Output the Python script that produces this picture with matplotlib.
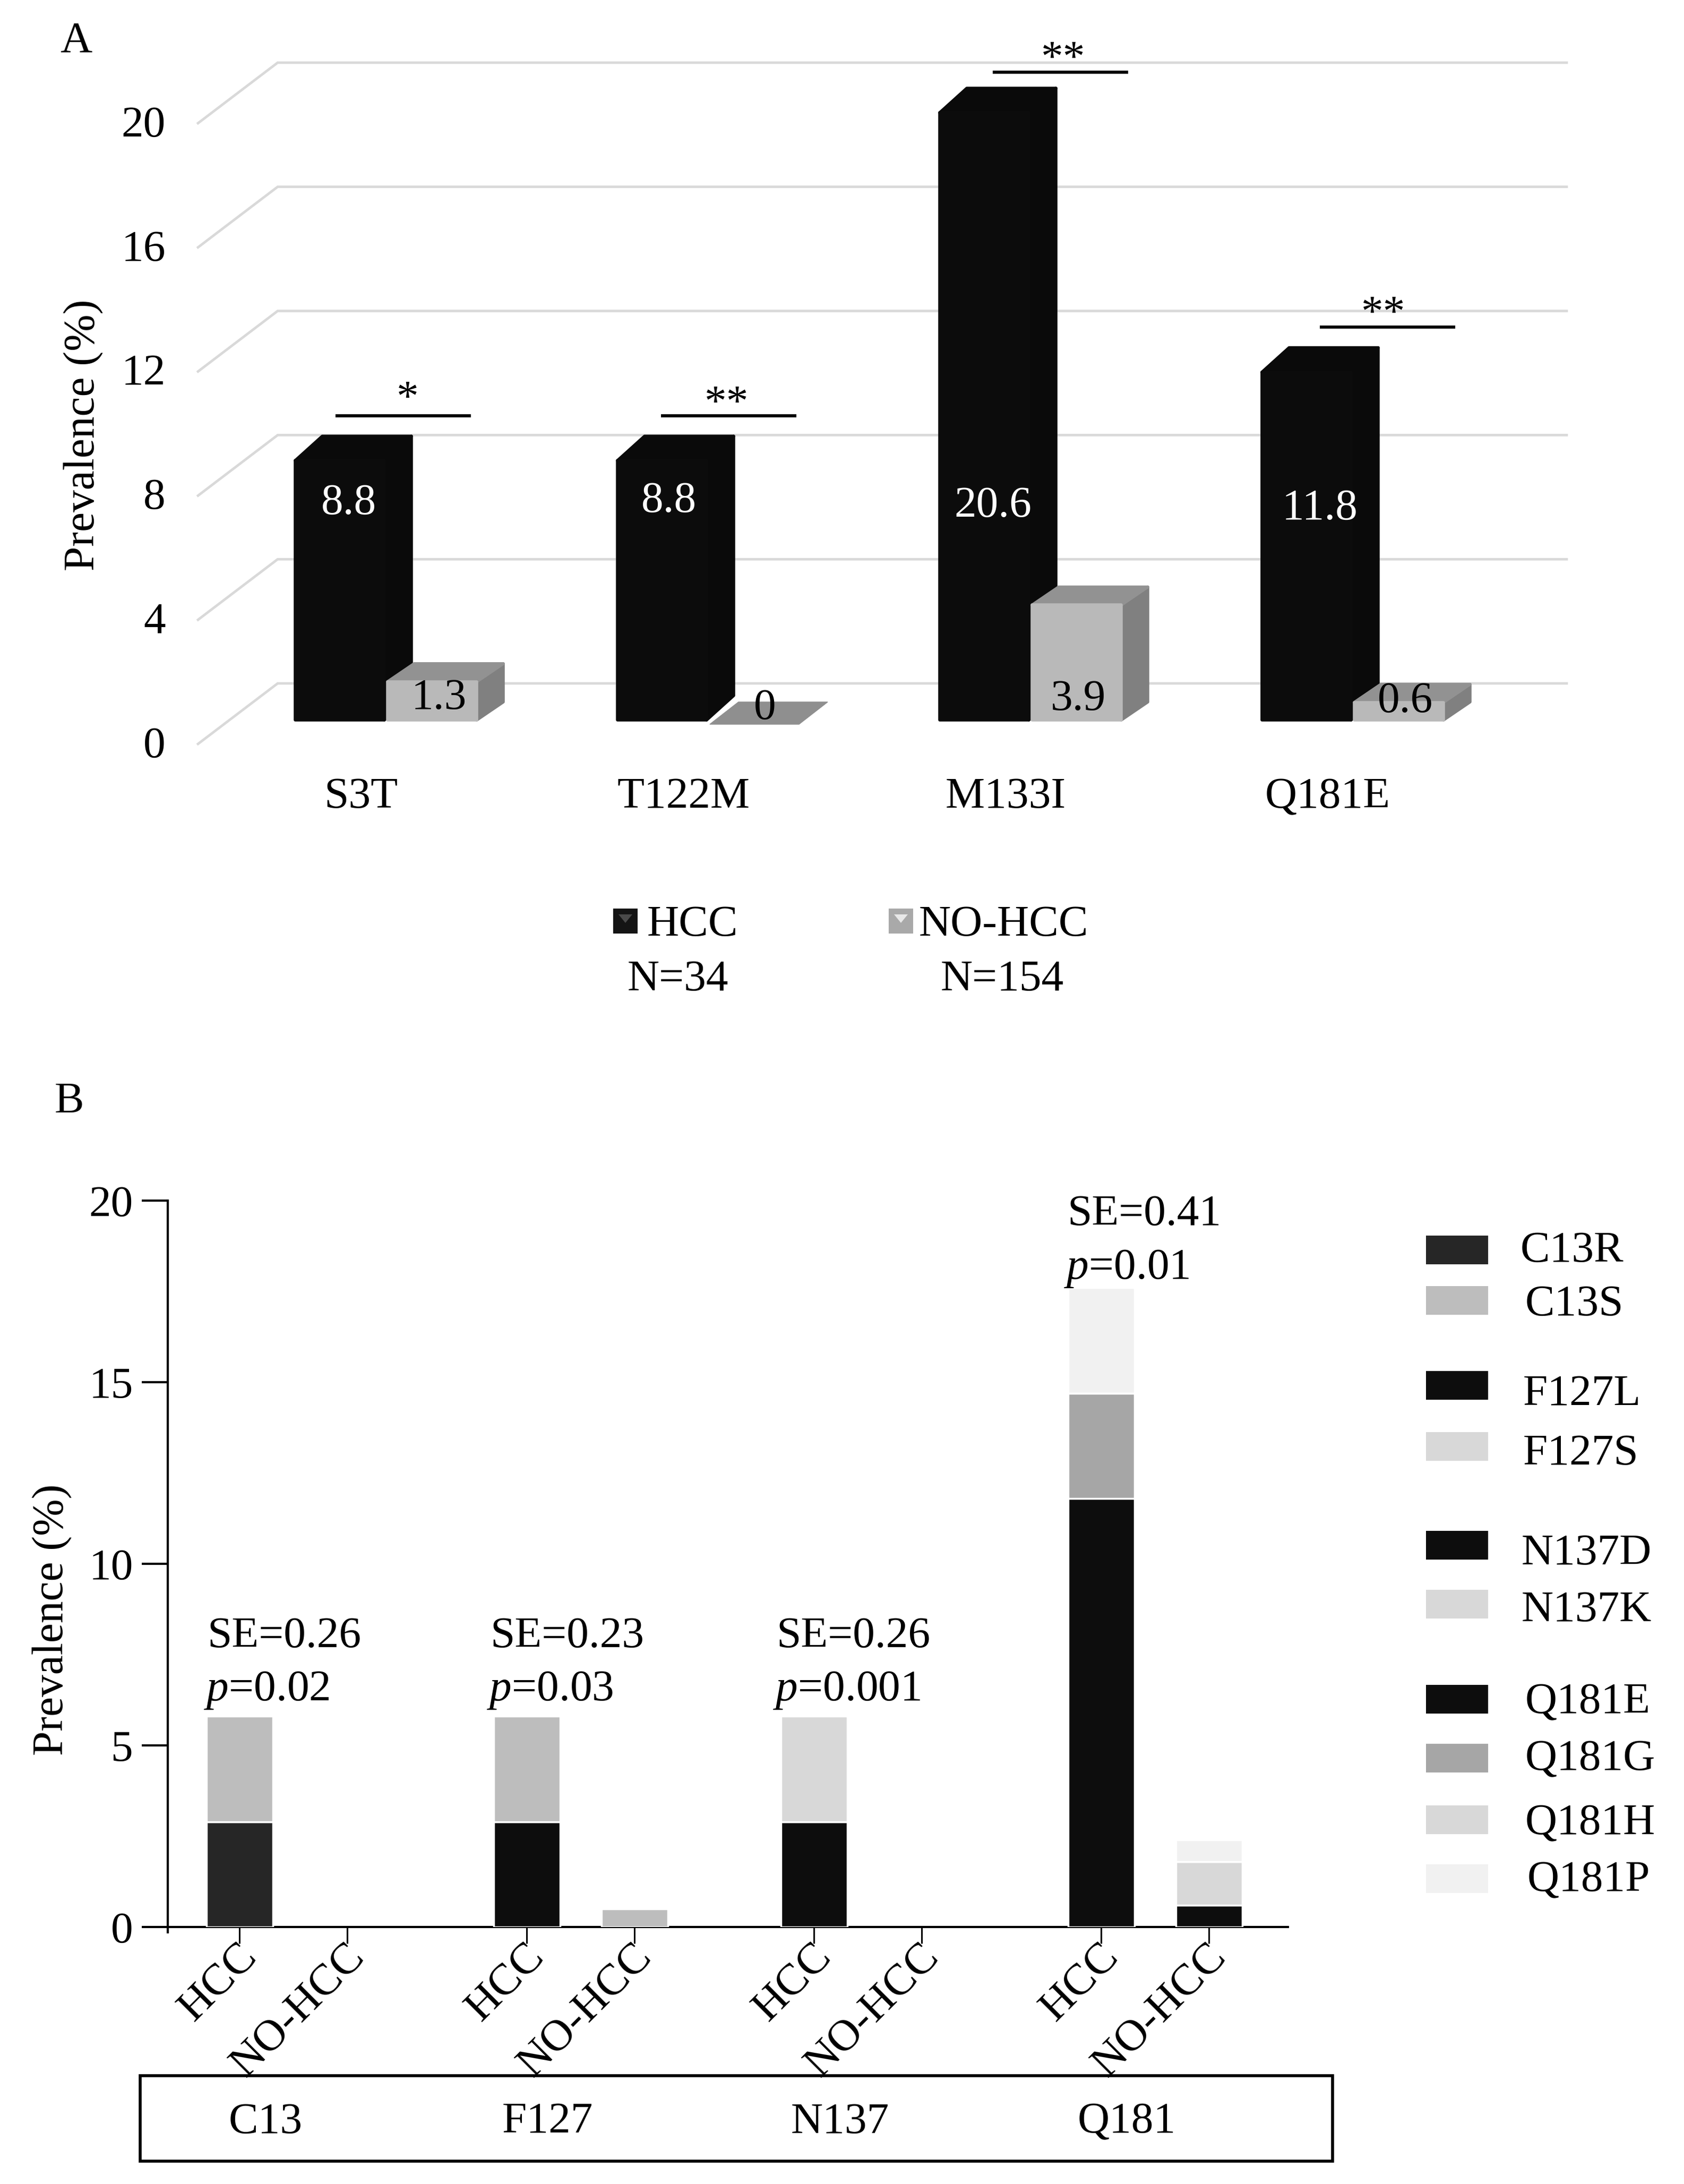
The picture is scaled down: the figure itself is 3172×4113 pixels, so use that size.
import numpy as np
import matplotlib
matplotlib.use("Agg")
import matplotlib.pyplot as plt
from matplotlib.patches import Polygon, Rectangle
from matplotlib.transforms import ScaledTranslation

W, H = 3172, 4113
plt.rcParams['font.family'] = ['Liberation Serif', 'DejaVu Serif']
plt.rcParams['mathtext.fontset'] = 'custom'
plt.rcParams['mathtext.rm'] = 'Liberation Serif'
plt.rcParams['mathtext.it'] = 'Liberation Serif:italic'
FS = 60

# ---------- data ----------
sites_a = ['S3T', 'T122M', 'M133I', 'Q181E']
hcc_a = [8.8, 8.8, 20.6, 11.8]
nohcc_a = [1.3, 0.0, 3.9, 0.6]
stars_a = ['*', '**', '**', '**']
yticks_a = [0, 4, 8, 12, 16, 20]

groups_b = ['C13', 'F127', 'N137', 'Q181']
bar_labels_b = ['HCC', 'NO-HCC']
yticks_b = [0, 5, 10, 15, 20]
se_b = ['SE=0.26', 'SE=0.23', 'SE=0.26', 'SE=0.41']
p_b = ['0.02', '0.03', '0.001', '0.01']
c13r = [2.9, 0.0]
c13s = [2.9, 0.0]
f127l = [2.9, 0.0]
f127s = [2.9, 0.5]
n137d = [2.9, 0.0]
n137k = [2.9, 0.0]
q181e = [11.8, 0.6]
q181g = [2.9, 0.0]
q181h = [0.0, 1.2]
q181p = [2.9, 0.6]
variants_b = ['C13R', 'C13S', 'F127L', 'F127S', 'N137D', 'N137K',
              'Q181E', 'Q181G', 'Q181H', 'Q181P']
colors_b = ['#262626', '#bdbdbd', '#0d0d0d', '#bdbdbd', '#0d0d0d', '#d8d8d8',
            '#0d0d0d', '#a6a6a6', '#d8d8d8', '#f1f1f1']
legend_colors_b = ['#262626', '#bdbdbd', '#0d0d0d', '#d8d8d8', '#0d0d0d', '#d8d8d8',
                   '#0d0d0d', '#a6a6a6', '#d8d8d8', '#f1f1f1']

fig = plt.figure(figsize=(W / 100, H / 100), dpi=100, facecolor='white')


def fx(p):
    return p / W


def fy(p):
    return 1 - p / H


def axes_px(l, t, r, b):
    return fig.add_axes([l / W, 1 - b / H, (r - l) / W, (b - t) / H])


# ---------- panel A ----------
PXU = 58.45
PXC = 607.0
L, R, T, B = 373, 2951, 120, 1401
axa = axes_px(L, T, R, B)
CX0 = 724
axa.set_xlim((L - CX0) / PXC, (R - CX0) / PXC)
axa.set_ylim(0, (B - T) / PXU)
axa.patch.set_visible(False)
for s in axa.spines.values():
    s.set_visible(False)


def ya(p):
    return (B - p) / PXU


GDX, GDY = 150 / PXC, 114 / PXU
xl = axa.get_xlim()
for v in yticks_a:
    axa.plot([xl[0], xl[0] + GDX, xl[1]], [v, v + GDY, v + GDY], color='#d9d9d9',
             lw=3.4, solid_joinstyle='miter', zorder=1, clip_on=False)

axa.set_yticks(yticks_a)
axa.set_yticklabels([str(v) for v in yticks_a], fontsize=FS)
axa.tick_params(axis='y', length=0, pad=44)
for lab in axa.get_yticklabels():
    lab.set_transform(lab.get_transform() + ScaledTranslation(0, 4 / 100, fig.dpi_scale_trans))
x_a = np.arange(len(sites_a))
axa.set_xticks(x_a - 44 / PXC)
axa.set_xticklabels(sites_a, fontsize=FS)
axa.tick_params(axis='x', length=0, pad=45)
fig.text(fx(158), fy(819), 'Prevalence (%)', fontsize=FS, rotation=90, ha='center', va='center')

BASE = 45 / PXU     # floor lift of the bars above the front edge
SCALE = 0.95        # perspective foreshortening of bar heights
BW = 168 / PXC
BLACK, BLACK2 = '#0c0c0c', '#0a0a0a'
GF, GT, GS = '#b9b9b9', '#929292', '#808080'


def box(x0, v, w, dx, dy, front, top, side, z):
    h = v * SCALE
    x1 = x0 + w
    y0, y1 = BASE, BASE + h
    axa.add_patch(Polygon([(x1, y0), (x1 + dx, y0 + dy), (x1 + dx, y1 + dy), (x1, y1)],
                          closed=True, fc=side, ec=side, lw=4, joinstyle='round', zorder=z))
    axa.add_patch(Polygon([(x0, y1), (x0 + dx, y1 + dy), (x1 + dx, y1 + dy), (x1, y1)],
                          closed=True, fc=top, ec=top, lw=4, joinstyle='round', zorder=z))
    axa.bar(x0, h, w, bottom=y0, align='edge', color=front, ec=front, lw=4,
            joinstyle='round', zorder=z + 0.1)


dx1, dy1 = 51 / PXC, 46 / PXU
dx2, dy2 = 50 / PXC, 34 / PXU
for i in range(len(sites_a)):
    box(i - BW, hcc_a[i], BW, dx1, dy1, BLACK, BLACK2, BLACK2, 3)
for i in range(len(sites_a)):
    x0 = i + 6 / PXC
    if nohcc_a[i] > 0:
        box(x0, nohcc_a[i], BW, dx2, dy2, GF, GT, GS, 4)
    else:
        axa.add_patch(Polygon([(x0, BASE - 8 / PXU), (x0 + BW, BASE - 8 / PXU),
                               (x0 + BW + 54 / PXC, BASE + 34 / PXU), (x0 + 54 / PXC, BASE + 34 / PXU)],
                              closed=True, fc='#8f8f8f', ec='#8f8f8f', lw=1, zorder=4))

lab_dx_h = [-0.11, -0.117, -0.112, -0.097]
lab_py_h = [948, 944, 953, 958]
lab_dx_n = [0.17, 0.18, 0.153, 0.168]
lab_py_n = [1315, 1334, 1317, 1321]
for i in range(4):
    axa.text(i + lab_dx_h[i], ya(lab_py_h[i]), f'{hcc_a[i]:g}', color='white', fontsize=FS,
             ha='center', va='center', zorder=6)
    axa.text(i + lab_dx_n[i], ya(lab_py_n[i]), f'{nohcc_a[i]:g}', color='black', fontsize=FS,
             ha='center', va='center', zorder=6)

sig_left = [-0.152, -0.142, -0.112, -0.097]
sig_py = [783, 783, 136, 616]
star_dx = [0.224, 0.204, 0.218, 0.197]
star_py = [753, 762, 113, 593]
for i in range(4):
    axa.plot([i + sig_left[i], i + sig_left[i] + 0.42], [ya(sig_py[i])] * 2, color='black', lw=4.2,
             solid_capstyle='butt', zorder=7, clip_on=False)
    axa.text(i + sig_left[i] + star_dx[i], ya(star_py[i]), stars_a[i], fontsize=FS, ha='center', va='center',
             zorder=7, clip_on=False)

fig.text(fx(143), fy(78), 'A', fontsize=FS, ha='center', va='center')
fig.text(fx(130), fy(2075), 'B', fontsize=FS, ha='center', va='center')

# panel A legend
for (l, c, c2, tx, nx, n, name) in [(1155, '#141414', '#4a4a4a', 1219, 1277, 'N=34', 'HCC'),
                                    (1674, '#a9a9a9', '#e8e8e8', 1731, 1888, 'N=154', 'NO-HCC')]:
    fig.add_artist(Rectangle((fx(l), fy(1758)), 46 / W, 47 / H, transform=fig.transFigure, fc=c, ec='none'))
    fig.add_artist(Polygon([(fx(l + 10), fy(1722)), (fx(l + 36), fy(1722)), (fx(l + 23), fy(1738))],
                           closed=True, transform=fig.transFigure, fc=c2, ec='none'))
    fig.text(fx(tx), fy(1742), name, fontsize=FS, ha='left', va='center')
    fig.text(fx(nx), fy(1845), n, fontsize=FS, ha='center', va='center')

# ---------- panel B ----------
PXB = 203.0
L2, R2, T2, B2 = 316, 2426, 2261, 3629
PYB = (B2 - T2) / 20
axb = axes_px(L2, T2, R2, B2)
X0 = 451
axb.set_xlim((L2 - X0) / PXB, (R2 - X0) / PXB)
axb.set_ylim(0, 20)
axb.patch.set_visible(False)
for s in ['top', 'right']:
    axb.spines[s].set_visible(False)
for s in ['left', 'bottom']:
    axb.spines[s].set_linewidth(3)
axb.spines['left'].set_bounds(-0.15, 20)

GROUP_STEP = 541 / PXB
BWB = 125 / PXB
x_g = np.arange(4) * GROUP_STEP
stacks = [[c13r, c13s], [f127l, f127s], [n137d, n137k], [q181e, q181g, q181h, q181p]]
cols = [colors_b[0:2], colors_b[2:4], colors_b[4:6], colors_b[6:10]]
for g, (stack, col) in enumerate(zip(stacks, cols)):
    for k in range(2):
        bottom = 0.0
        for series, c in zip(stack, col):
            v = series[k]
            if v > 0:
                axb.bar(x_g[g] + k, v, BWB, bottom=bottom, color=c, ec='white', lw=2.5, zorder=3)
            bottom += v

x_ticks = np.sort(np.concatenate([x_g, x_g + 1]))
axb.set_xticks(x_ticks)
axb.set_xticklabels([bar_labels_b[j % 2] for j in range(8)], fontsize=FS,
                    rotation=45, ha='right', rotation_mode='anchor')
axb.set_yticks(yticks_b)
axb.set_yticklabels([str(v) for v in yticks_b], fontsize=FS)
axb.tick_params(axis='y', length=35, width=3, pad=12)
axb.tick_params(axis='x', length=22, width=2.2, pad=2)
for lab in axb.get_xticklabels():
    lab.set_transform(lab.get_transform() + ScaledTranslation(-6 / 100, 16 / 100, fig.dpi_scale_trans))
fig.text(fx(99), fy(3050), 'Prevalence (%)', fontsize=FS, rotation=90, ha='center', va='center')

se_py = [3082, 3082, 3082, 2287]
p_py = [3184, 3184, 3184, 2389]
shift_px = [0, -8, -10, -3]
for g in range(4):
    x = x_g[g] - BWB / 2 + shift_px[g] / PXB
    axb.text(x + 0.01, (B2 - se_py[g]) / PYB, se_b[g], fontsize=FS, ha='left', va='center', clip_on=False)
    axb.text(x - 0.02, (B2 - p_py[g]) / PYB, r'$\mathit{p}$=' + p_b[g], fontsize=FS, ha='left', va='center',
             clip_on=False)

# group box below panel B
fig.add_artist(Rectangle((fx(264), fy(4070)), (2510 - 264) / W, (4070 - 3909) / H, transform=fig.transFigure,
                         fc='none', ec='black', lw=4))
for name, px in zip(groups_b, [500, 1031, 1582, 2122]):
    fig.text(fx(px), fy(3997), name, fontsize=FS, ha='center', va='center')

# panel B legend
leg_y = [2354, 2449, 2609, 2724, 2910, 3021, 3200, 3311, 3427, 3538]
leg_ty = [2356, 2457, 2627, 2738, 2926, 3033, 3207, 3314, 3435, 3542]
leg_x = [2864, 2873, 2869, 2869, 2866, 2866, 2873, 2873, 2873, 2877]
for name, c, y, ty, x in zip(variants_b, legend_colors_b, leg_y, leg_ty, leg_x):
    fig.add_artist(Rectangle((fx(2686), fy(y + 27)), 117 / W, 54 / H, transform=fig.transFigure, fc=c, ec='none'))
    fig.text(fx(x), fy(ty), name, fontsize=FS, ha='left', va='center')

fig.savefig('out.png', dpi=100, facecolor='white')
